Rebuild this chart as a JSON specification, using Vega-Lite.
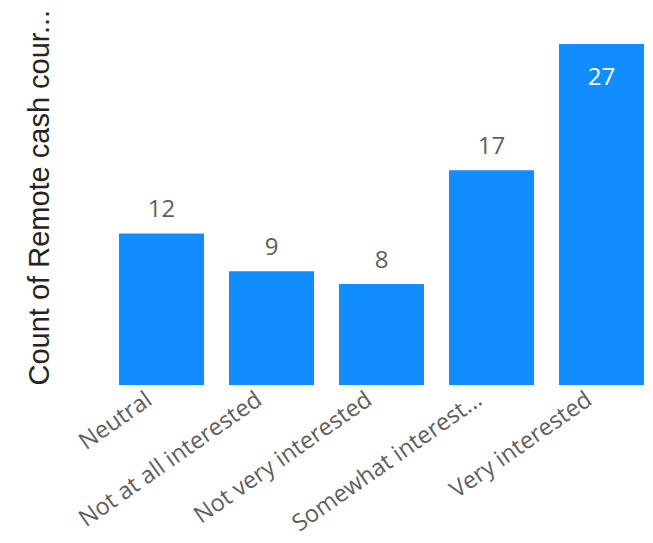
{
  "$schema": "https://vega.github.io/schema/vega-lite/v6.json",
  "width": 525,
  "height": 341,
  "autosize": "none",
  "padding": {"left": 119, "top": 44, "right": 9, "bottom": 158},
  "background": "white",
  "data": {"values": [
    {"category": "Neutral", "count": 12},
    {"category": "Not at all interested", "count": 9},
    {"category": "Not very interested", "count": 8},
    {"category": "Somewhat interested", "count": 17},
    {"category": "Very interested", "count": 27}
  ]},
  "encoding": {
    "x": {
      "field": "category", "type": "nominal",
      "sort": ["Neutral", "Not at all interested", "Not very interested", "Somewhat interested", "Very interested"],
      "scale": {"paddingInner": 0.2273, "paddingOuter": 0},
      "axis": {"title": null, "labelAngle": -35, "labelAlign": "right", "labelBaseline": "middle",
        "labelExpr": "datum.label == 'Somewhat interested' ? 'Somewhat interest...' : datum.label",
        "labelFont": "Open Sans", "labelFontSize": 23.5, "labelColor": "#605E5C", "labelLimit": 300,
        "labelOffset": -12, "labelPadding": 12, "ticks": false, "domain": false, "grid": false}
    },
    "y": {
      "field": "count", "type": "quantitative",
      "scale": {"domain": [0, 27], "nice": false},
      "axis": {"title": "Count of Remote cash cour...", "labels": false, "ticks": false, "domain": false, "grid": false,
        "titleFont": "Liberation Sans", "titleFontSize": 29, "titleColor": "#252423", "titleFontWeight": "normal",
        "titleAnchor": "start", "titlePadding": 71, "titleBaseline": "alphabetic"}
    }
  },
  "layer": [
    {"mark": {"type": "bar", "color": "#118DFF"}},
    {
      "transform": [{"filter": "datum.count < 20"}],
      "mark": {"type": "text", "baseline": "alphabetic", "dy": -16, "font": "Open Sans", "fontSize": 24, "color": "#605E5C"},
      "encoding": {"text": {"field": "count", "type": "quantitative"}}
    },
    {
      "transform": [{"filter": "datum.count >= 20"}],
      "mark": {"type": "text", "baseline": "alphabetic", "dy": 41, "font": "Open Sans", "fontSize": 24, "color": "#FFFFFF"},
      "encoding": {"text": {"field": "count", "type": "quantitative"}}
    }
  ],
  "config": {"view": {"stroke": null}}
}
